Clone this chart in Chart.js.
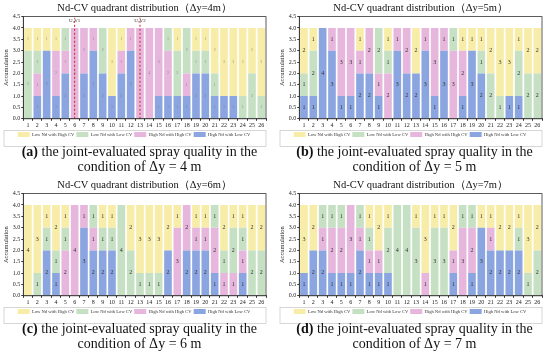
<!DOCTYPE html>
<html>
<head>
<meta charset="utf-8">
<script src="https://cdn.jsdelivr.net/npm/chart.js@4.4.1/dist/chart.umd.min.js"></script>
<style>
  body { margin: 0; background: #fff; width: 550px; height: 360px; position: relative; overflow: hidden; }
  .panel { position: absolute; width: 272px; height: 146px; }
  .cap { position: absolute; width: 275px; text-align: center; font-family: "Liberation Serif", serif; font-size: 14px; line-height: 15px; color: #111; }
</style>
</head>
<body>
<div class="panel" style="left:0;top:1px"><canvas id="chart-a"></canvas></div>
<div class="panel" style="left:276px;top:1px"><canvas id="chart-b"></canvas></div>
<div class="panel" style="left:0;top:178px"><canvas id="chart-c"></canvas></div>
<div class="panel" style="left:276px;top:178px"><canvas id="chart-d"></canvas></div>
<div class="cap" style="left:2px;top:144px"><b>(a)</b> the joint-evaluated spray quality in the<br>condition of Δy = 4 m</div>
<div class="cap" style="left:277px;top:144px"><b>(b)</b> the joint-evaluated spray quality in the<br>condition of Δy = 5 m</div>
<div class="cap" style="left:2px;top:321px"><b>(c)</b> the joint-evaluated spray quality in the<br>condition of Δy = 6 m</div>
<div class="cap" style="left:277px;top:321px"><b>(d)</b> the joint-evaluated spray quality in the<br>condition of Δy = 7 m</div>
<script>
// 26 sampling positions, 4 accumulation per position
const positions = ["1","2","3","4","5","6","7","8","9","10","11","12","13","14","15","16","17","18","19","20","21","22","23","24","25","26"];
const seriesNames = ["Low Nd with High CV", "Low Nd with Low CV", "High Nd with High CV", "High Nd with Low CV"];
const yTicks = [0, 0.5, 1, 1.5, 2, 2.5, 3, 3.5, 4, 4.5];

// Δy = 4m
const highLowA  = [0,1,3,1,2,0,2,3,2,1,2,3,0,0,1,1,1,1,2,2,1,1,1,0,0,0];
const highHighA = [0,1,0,2,1,4,2,1,0,0,1,1,4,4,3,2,0,1,0,0,0,0,0,0,0,0];
const lowLowA   = [3,1,0,0,1,0,0,0,2,0,0,0,0,0,0,1,2,2,1,1,1,0,0,1,2,1];
const lowHighA  = [1,1,1,1,0,0,0,0,0,3,1,0,0,0,0,0,1,0,1,1,2,3,3,3,2,3];

// Δy = 5m
const highLowB  = [1,1,4,3,1,1,2,2,1,0,3,2,2,3,1,3,0,1,3,2,0,0,1,1,0,0];
const highHighB = [0,0,0,1,3,3,1,2,1,2,1,2,0,1,3,1,3,2,0,0,0,0,0,0,0,0];
const lowLowB   = [1,2,0,0,0,0,0,0,2,1,0,0,0,0,0,0,1,0,0,1,2,1,0,2,2,2];
const lowHighB  = [2,1,0,0,0,0,1,0,0,1,0,0,2,0,0,0,0,1,1,1,2,3,3,1,2,2];

// Δy = 6m
const highLowC  = [0,0,2,1,0,0,3,2,2,2,0,0,0,0,0,2,0,2,2,2,1,0,0,1,0,0];
const highHighC = [0,0,0,0,2,4,1,1,0,0,0,0,0,0,0,0,3,2,1,1,2,1,1,1,0,0];
const lowLowC   = [0,1,1,1,1,0,0,1,1,1,4,2,1,1,1,0,0,0,0,0,1,1,2,1,2,2];
const lowHighC  = [4,3,1,2,1,0,0,0,1,1,0,2,3,3,3,2,1,0,1,1,0,2,1,1,2,2];

// Δy = 7m
const highLowD  = [1,2,2,1,1,1,2,1,1,1,0,0,0,0,0,0,1,0,1,3,2,2,2,2,0,0];
const highHighD = [0,0,1,2,2,3,1,1,1,0,0,0,0,1,0,0,1,3,2,0,1,0,0,0,0,0];
const lowLowD   = [0,0,1,1,1,0,1,1,0,2,4,4,3,0,3,3,0,1,1,0,0,0,0,1,1,2];
const lowHighD  = [3,2,0,0,0,0,0,1,2,1,0,0,1,3,1,1,2,0,0,1,1,2,2,1,3,2];

const colors = {
  lowHigh: "#f8eda8",
  lowLow: "#c6e0c3",
  highHigh: "#e7b6dc",
  highLow: "#8ba5e0",
};

const serif = "'Liberation Serif', 'Times New Roman', serif";

// numbers in the middle of every stacked piece
const segmentLabels = {
  id: "segmentLabels",
  afterDatasetsDraw(chart, args, opts) {
    const ctx = chart.ctx;
    ctx.save();
    ctx.font = opts.size + "px " + serif;
    ctx.fillStyle = opts.color;
    ctx.textAlign = "center";
    ctx.textBaseline = "middle";
    chart.data.datasets.forEach((ds, di) => {
      const meta = chart.getDatasetMeta(di);
      meta.data.forEach((bar, i) => {
        const v = ds.data[i];
        if (!v) return;
        ctx.fillText(String(v), bar.x, (bar.y + bar.base) / 2);
      });
    });
    ctx.restore();
  },
};

// frame round the plot + box round the legend
const frame = {
  id: "frame",
  afterDraw(chart) {
    const ctx = chart.ctx;
    const a = chart.chartArea;
    ctx.save();
    ctx.strokeStyle = "#333";
    ctx.lineWidth = 0.8;
    ctx.strokeRect(a.left, a.top, a.right - a.left, a.bottom - a.top);
    const lg = chart.legend;
    ctx.strokeStyle = "#bbb";
    ctx.lineWidth = 0.6;
    ctx.strokeRect(4, lg.top + 0.5, a.right - 4, lg.height - 1);
    ctx.restore();
  },
};

// red dashed marker lines (panel a only)
const markers = {
  id: "markers",
  afterDatasetsDraw(chart, args, opts) {
    if (!opts.items) return;
    const ctx = chart.ctx;
    const xs = chart.scales.x;
    const ys = chart.scales.y;
    ctx.save();
    opts.items.forEach((m) => {
      const x = xs.getPixelForValue(m.index);
      ctx.strokeStyle = "#d02020";
      ctx.lineWidth = 1;
      ctx.setLineDash([2, 2]);
      ctx.beginPath();
      ctx.moveTo(x, ys.getPixelForValue(0));
      ctx.lineTo(x, ys.getPixelForValue(4.45));
      ctx.stroke();
      ctx.setLineDash([]);
      ctx.font = "5px " + serif;
      ctx.fillStyle = "#333";
      ctx.textAlign = "center";
      ctx.textBaseline = "middle";
      ctx.fillText(m.text, x, ys.getPixelForValue(4.3));
    });
    ctx.restore();
  },
};

function makeChart(id, step, highLow, highHigh, lowLow, lowHigh, labelSize, labelColor, markerItems) {
  return new Chart(document.getElementById(id), {
    type: "bar",
    data: {
      labels: positions,
      datasets: [
        { label: seriesNames[3], data: highLow, backgroundColor: colors.highLow },
        { label: seriesNames[2], data: highHigh, backgroundColor: colors.highHigh },
        { label: seriesNames[1], data: lowLow, backgroundColor: colors.lowLow },
        { label: seriesNames[0], data: lowHigh, backgroundColor: colors.lowHigh },
      ],
    },
    options: {
      responsive: false,
      animation: false,
      devicePixelRatio: 1,
      layout: { padding: { left: 2, right: 6, top: 0, bottom: 0 } },
      datasets: { bar: { barPercentage: 0.82, categoryPercentage: 1 } },
      scales: {
        x: {
          stacked: true,
          grid: { display: true, drawOnChartArea: false, tickLength: 2, color: "#333" },
          border: { color: "#333", width: 0.8 },
          ticks: { font: { family: serif, size: 6 }, color: "#222", padding: 1, maxRotation: 0, autoSkip: false },
        },
        y: {
          stacked: true,
          min: 0,
          max: 4.5,
          afterBuildTicks: (s) => { s.ticks = yTicks.map((v) => ({ value: v })); },
          grid: { display: true, drawOnChartArea: false, tickLength: 2, color: "#333" },
          border: { color: "#333", width: 0.8 },
          ticks: { font: { family: serif, size: 6 }, color: "#222", padding: 1, callback: (v) => Number(v).toFixed(1) },
          title: { display: true, text: "Accumulation", font: { family: serif, size: 6.5 }, color: "#222", padding: { top: 0, bottom: 2 } },
        },
      },
      plugins: {
        title: {
          display: true,
          fullSize: false,
          text: "Nd-CV quadrant distribution（Δy=" + step + "m）",
          font: { family: serif, size: 10.5, weight: "normal" },
          color: "#111",
          padding: { top: 1, bottom: 2 },
        },
        legend: {
          position: "bottom",
          reverse: true,
          labels: {
            boxWidth: 12,
            boxHeight: 5,
            padding: 2,
            font: { family: serif, size: 4.6 },
            color: "#333",
          },
        },
        tooltip: { enabled: false },
        segmentLabels: { size: labelSize, color: labelColor },
        markers: { items: markerItems },
      },
    },
    plugins: [segmentLabels, frame, markers],
  });
}

for (const id of ["chart-a", "chart-b", "chart-c", "chart-d"]) {
  const c = document.getElementById(id);
  c.width = 272;
  c.height = 146;
}

makeChart("chart-a", 4, highLowA, highHighA, lowLowA, lowHighA, 3, "#777",
  [{ index: 5, text: "U₁V1" }, { index: 12, text: "U₁V2" }]);
makeChart("chart-b", 5, highLowB, highHighB, lowLowB, lowHighB, 6, "#333", null);
makeChart("chart-c", 6, highLowC, highHighC, lowLowC, lowHighC, 6, "#333", null);
makeChart("chart-d", 7, highLowD, highHighD, lowLowD, lowHighD, 6, "#333", null);
</script>
</body>
</html>
